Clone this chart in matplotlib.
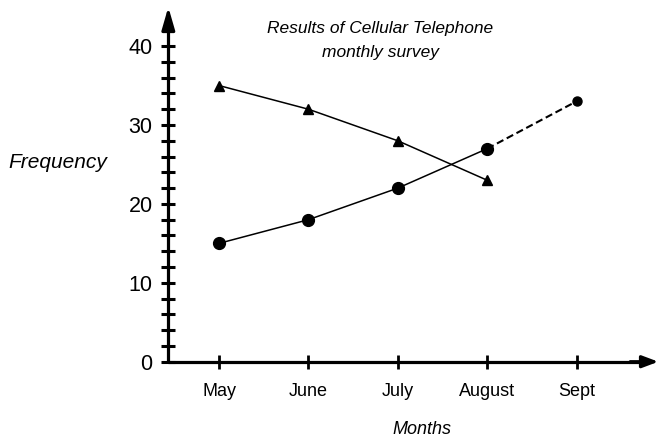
import matplotlib
matplotlib.use("Agg")
import matplotlib.pyplot as plt

plt.rcParams["font.family"] = ["Liberation Sans", "DejaVu Sans"]

months = ["May", "June", "July", "August", "Sept"]
month_pos = [1, 2, 3, 4, 5]

# triangle series (May-August)
tri_values = [35, 32, 28, 23]
# circle series, August -> Sept is a projection (dashed)
dot_values = [15, 18, 22, 27]
dot_forecast = [27, 33]

y_ticks = list(range(0, 41, 2))
y_labels = [str(v) if v % 10 == 0 else "" for v in y_ticks]

fig = plt.figure(figsize=(6.59, 4.43), dpi=100)
ax = fig.add_axes([0, 0, 1, 1])
ax.set_xlim(-1.450, 5.922)
ax.set_ylim(-10.30, 45.84)

y_axis_x = 0.433

for side in ["top", "right"]:
    ax.spines[side].set_visible(False)
ax.spines["left"].set_position(("data", y_axis_x))
ax.spines["bottom"].set_position(("data", 0))
ax.spines["left"].set_bounds(0, 44)
ax.spines["bottom"].set_bounds(y_axis_x, 5.8)
for side in ["left", "bottom"]:
    ax.spines[side].set_linewidth(2.3)
    ax.spines[side].set_capstyle("butt")

# arrow heads on both axes
ax.annotate("", xy=(y_axis_x, 44.95), xytext=(y_axis_x, 42.5),
            arrowprops=dict(arrowstyle="-|>,head_length=0.9,head_width=0.26",
                            mutation_scale=15, color="black", lw=2.3,
                            shrinkA=0, shrinkB=0))
ax.annotate("", xy=(5.915, 0), xytext=(5.6, 0),
            arrowprops=dict(arrowstyle="-|>,head_length=0.8,head_width=0.3",
                            mutation_scale=12, color="black", lw=2.3,
                            shrinkA=0, shrinkB=0))

ax.set_yticks(y_ticks)
ax.set_yticklabels(y_labels, fontsize=15.5)
ax.tick_params(axis="y", direction="inout", length=10.5, width=2.2, pad=6)

ax.set_xticks(month_pos)
ax.set_xticklabels(months, fontsize=13)
ax.tick_params(axis="x", direction="inout", length=10.5, width=2.0, pad=10)

ax.plot(month_pos[:4], tri_values, color="black", lw=1.1,
        marker="^", markersize=7, zorder=3)
ax.plot(month_pos[:4], dot_values, color="black", lw=1.1,
        marker="o", markersize=8.5, zorder=3)
ax.plot(month_pos[3:], dot_forecast, color="black", lw=1.5,
        linestyle=(0, (3.5, 1.8)), zorder=2)
ax.plot(month_pos[4], dot_forecast[1], "o", color="black", markersize=6.5, zorder=3)

ax.text(2.806, 41.66, "Results of Cellular Telephone",
        ha="center", va="baseline", fontsize=12.5, style="italic")
ax.text(2.806, 38.62, "monthly survey",
        ha="center", va="baseline", fontsize=12.5, style="italic")
ax.text(-0.80, 25.2, "Frequency", ha="center", va="center",
        fontsize=15, style="italic")
ax.text(3.27, -8.6, "Months", ha="center", va="center",
        fontsize=13, style="italic")

fig.savefig("out.png", dpi=100)
